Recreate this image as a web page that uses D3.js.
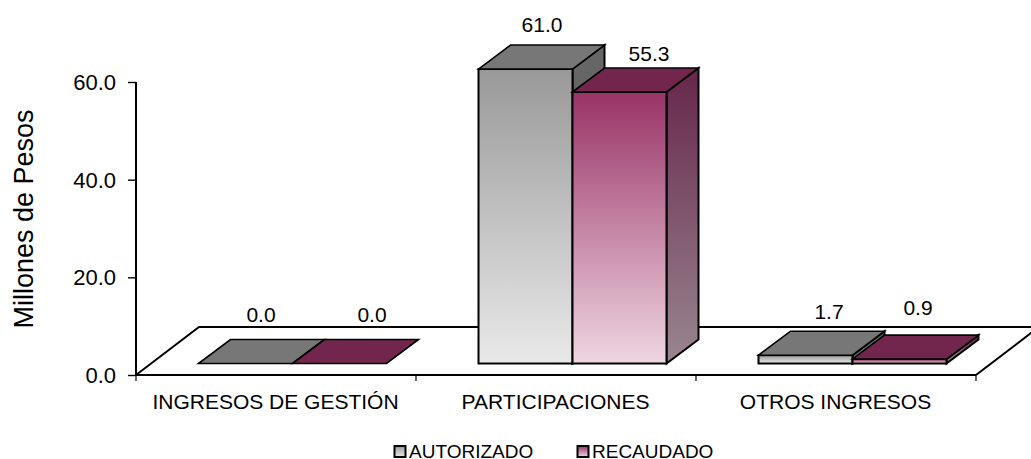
<!DOCTYPE html>
<html>
<head>
<meta charset="utf-8">
<script src="https://cdn.jsdelivr.net/npm/d3@7"></script>
<style>
  html, body { margin: 0; padding: 0; background: #fff; }
  svg { display: block; }
  text { font-family: "Liberation Sans", "DejaVu Sans", sans-serif; fill: #000; }
</style>
</head>
<body>
<div id="chart"></div>
<script>
var categories = ["INGRESOS DE GESTIÓN", "PARTICIPACIONES", "OTROS INGRESOS"];
var seriesNames = ["AUTORIZADO", "RECAUDADO"];
var autorizado = [0.0, 61.0, 1.7];
var recaudado = [0.0, 55.3, 0.9];
// heights of the bars as drawn, they differ a little from their printed labels
var autorizadoDrawn = [0.0, 60.3, 1.7];
var recaudadoDrawn = [0.0, 55.6, 0.9];
var yTicks = [0, 20, 40, 60];

var width = 1031, height = 459;
var floorY = 375, topY = 82, leftX = 136, rightX = 976;
var floorDx = 63, floorDy = -48, barDx = 32, barDy = -24;
var barBase = 11.5; // bars stand this far behind the front edge of the floor
var barShift = 16;  // and are pushed right by half their depth
var lineW = 2;

var svg = d3.select("#chart").append("svg")
    .attr("width", width)
    .attr("height", height);

var defs = svg.append("defs");
function gradient(id, from, to) {
    var g = defs.append("linearGradient").attr("id", id)
        .attr("x1", 0).attr("y1", 0).attr("x2", 0).attr("y2", 1);
    g.append("stop").attr("offset", "0%").attr("stop-color", from);
    g.append("stop").attr("offset", "100%").attr("stop-color", to);
}
gradient("frontA", "#999999", "#e9e9e9");
gradient("frontR", "#993366", "#efd6e2");
gradient("sideA", "#666666", "#666666");
gradient("sideR", "#66264a", "#998690");

var faces = [
    {front: "url(#frontA)", side: "url(#sideA)", top: "#777777"},
    {front: "url(#frontR)", side: "url(#sideR)", top: "#72264d"}
];

var y = d3.scaleLinear().domain([0, 60]).range([floorY, topY]);
var x = d3.scaleBand().domain(categories).range([leftX, rightX])
    .paddingInner(0.3286).paddingOuter(0.1643);
var xSeries = d3.scaleBand().domain(seriesNames).range([0, x.bandwidth()]);

// floor of the 3d plot, runs off the right side of the page
svg.append("path")
    .attr("d", d3.line()([
        [leftX, floorY], [leftX + floorDx, floorY + floorDy],
        [rightX + floorDx, floorY + floorDy], [rightX, floorY]
    ]))
    .attr("fill", "#fff")
    .attr("stroke", "#000")
    .attr("stroke-width", lineW);

// axes
var yAxis = d3.axisLeft(y).tickValues(yTicks).tickSize(8).tickPadding(12)
    .tickFormat(d3.format(".1f"));
var gy = svg.append("g").attr("transform", "translate(" + leftX + ",0)").call(yAxis);
gy.select(".domain").attr("d", "M0," + topY + "V" + floorY)
    .attr("stroke", "#000").attr("stroke-width", lineW);
gy.selectAll(".tick line").attr("stroke", "#000").attr("stroke-width", 1.4);
gy.selectAll("text").style("font-size", "22px").attr("dy", "0.34em");

var bandStep = x.step();
var xAxisG = svg.append("g");
xAxisG.append("line")
    .attr("x1", leftX).attr("x2", rightX)
    .attr("y1", floorY).attr("y2", floorY)
    .attr("stroke", "#000").attr("stroke-width", lineW);
xAxisG.selectAll(".tick").data(d3.range(categories.length + 1)).enter().append("line")
    .attr("x1", function(d) { return leftX + d * bandStep; })
    .attr("x2", function(d) { return leftX + d * bandStep; })
    .attr("y1", floorY).attr("y2", floorY + 6)
    .attr("stroke", "#000").attr("stroke-width", 1.2);
xAxisG.selectAll(".cat").data(categories).enter().append("text")
    .attr("x", function(d) { return x(d) + x.bandwidth() / 2 - 0.5; })
    .attr("y", 409)
    .attr("text-anchor", "middle")
    .style("font-size", "21px")
    .text(function(d) { return d; });

svg.append("text")
    .attr("transform", "translate(33,219) rotate(-90)")
    .attr("text-anchor", "middle")
    .style("font-size", "27px")
    .text("Millones de Pesos");

// bars, left to right so each side face is covered by the next bar
var rows = [];
categories.forEach(function(c, i) {
    rows.push({cat: c, s: 0, value: autorizado[i], drawn: autorizadoDrawn[i]});
    rows.push({cat: c, s: 1, value: recaudado[i], drawn: recaudadoDrawn[i]});
});

var line = d3.line();
var bars = svg.selectAll(".bar").data(rows).enter().append("g").attr("class", "bar");

bars.each(function(d) {
    var g = d3.select(this);
    var x0 = x(d.cat) + xSeries(seriesNames[d.s]) + barShift + 0.5;
    var x1 = x0 + xSeries.bandwidth();
    var yb = floorY - barBase;
    var yt = y(d.drawn) - barBase;
    var f = faces[d.s];

    if (yb - yt > 0.5) {
        g.append("path")
            .attr("d", line([[x1, yt], [x1 + barDx, yt + barDy], [x1 + barDx, yb + barDy], [x1, yb]]) + "Z")
            .attr("fill", f.side).attr("stroke", "#000").attr("stroke-width", lineW);
        g.append("rect")
            .attr("x", x0).attr("y", yt)
            .attr("width", x1 - x0).attr("height", yb - yt)
            .attr("fill", f.front).attr("stroke", "#000").attr("stroke-width", lineW);
    }
    g.append("path")
        .attr("d", line([[x0, yt], [x0 + barDx, yt + barDy], [x1 + barDx, yt + barDy], [x1, yt]]) + "Z")
        .attr("fill", f.top).attr("stroke", "#000").attr("stroke-width", 1.6);
});

// value labels, excel left them slightly off centre
var labelNudge = [[0, -18], [17, -18], [1, -13], [14, -7], [8, -12], [3, -20]];
svg.selectAll(".val").data(rows).enter().append("text")
    .attr("class", "val")
    .attr("text-anchor", "middle")
    .style("font-size", "21px")
    .attr("x", function(d, i) {
        return x(d.cat) + xSeries(seriesNames[d.s]) + barShift + xSeries.bandwidth() / 2 + barDx / 2 + labelNudge[i][0];
    })
    .attr("y", function(d, i) { return y(d.drawn) - barBase + barDy + labelNudge[i][1]; })
    .text(function(d) { return d3.format(".1f")(d.value); });

// legend
var legendX = [394, 577];
var legend = svg.selectAll(".legend").data(seriesNames).enter().append("g")
    .attr("class", "legend")
    .attr("transform", function(d, i) { return "translate(" + legendX[i] + ",445)"; });
legend.append("rect")
    .attr("x", 0.5).attr("y", 1).attr("width", 11).attr("height", 11)
    .attr("fill", function(d, i) { return faces[i].front; })
    .attr("stroke", "#000").attr("stroke-width", lineW);
legend.append("text")
    .attr("x", 15).attr("y", 13)
    .style("font-size", "19px")
    .text(function(d) { return d; });
</script>
</body>
</html>
